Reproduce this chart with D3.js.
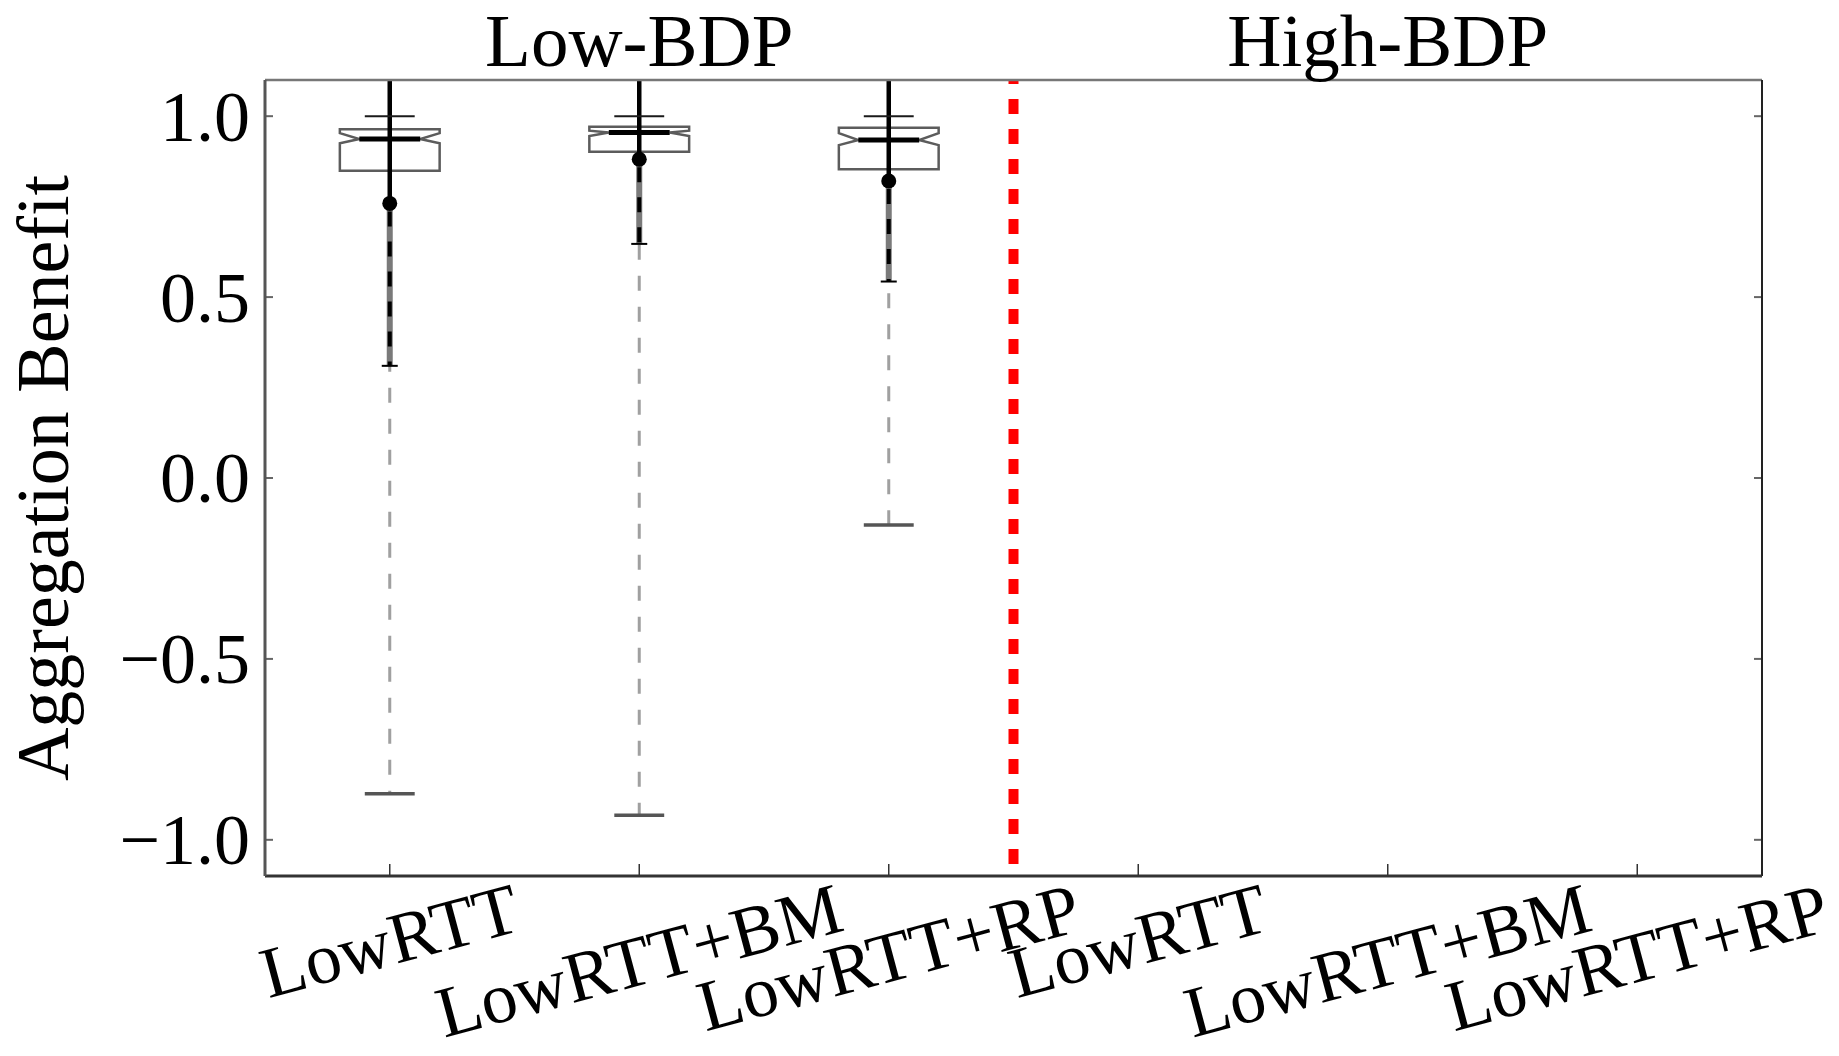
<!DOCTYPE html>
<html>
<head>
<meta charset="utf-8">
<script src="https://cdn.jsdelivr.net/npm/d3@7"></script>
<style>
  body { margin: 0; background: #fff; }
  svg { display: block; font-family: "Liberation Serif", "DejaVu Serif", serif; }
</style>
</head>
<body>
<div id="chart"></div>
<script>
// box plot data (only the Low-BDP group has boxes)
const categories = ["LowRTT", "LowRTT+BM", "LowRTT+RP", "LowRTT", "LowRTT+BM", "LowRTT+RP"];
const groups = ["Low-BDP", "High-BDP"];
const groupCenter = [2, 5];
const boxPos = [1, 2, 3];
const q1 = [0.849, 0.902, 0.853];
const median = [0.937, 0.955, 0.934];
const q3 = [0.964, 0.971, 0.968];
const notchLo = [0.925, 0.945, 0.920];
const notchHi = [0.953, 0.960, 0.953];
const whiskerLo = [-0.873, -0.932, -0.130];
const whiskerHi = [1.0, 1.0, 1.0];
const means = [0.759, 0.881, 0.821];
const errLo = [0.31, 0.647, 0.543];
const errHi = [1.21, 1.12, 1.11];
const yTicks = [-1.0, -0.5, 0.0, 0.5, 1.0];
const divider = 3.5;

const W = 1839, H = 1056;
const margin = { top: 80, right: 77, bottom: 180, left: 265 };

const svg = d3.select("#chart").append("svg")
    .attr("width", W)
    .attr("height", H);

const x = d3.scaleLinear().domain([0.5, 6.5]).range([margin.left, W - margin.right]);
const y = d3.scaleLinear().domain([-1.1, 1.1]).range([H - margin.bottom, margin.top]);

const x0 = x.range()[0], x1 = x.range()[1];
const yb = y.range()[0], yt = y.range()[1];

svg.append("clipPath").attr("id", "plot")
    .append("rect")
    .attr("x", x0).attr("y", yt)
    .attr("width", x1 - x0).attr("height", yb - yt);

const plot = svg.append("g").attr("clip-path", "url(#plot)");

// boxes
const bw = 0.2, nw = 0.122, cw = 0.1;
boxPos.forEach((p, i) => {
    const g = plot.append("g");
    const L = x(p - bw), R = x(p + bw), cl = x(p - nw), cr = x(p + nw);
    const path = d3.path();
    path.moveTo(L, y(q1[i]));
    path.lineTo(R, y(q1[i]));
    path.lineTo(R, y(notchLo[i]));
    path.lineTo(cr, y(median[i]));
    path.lineTo(R, y(notchHi[i]));
    path.lineTo(R, y(q3[i]));
    path.lineTo(L, y(q3[i]));
    path.lineTo(L, y(notchHi[i]));
    path.lineTo(cl, y(median[i]));
    path.lineTo(L, y(notchLo[i]));
    path.closePath();
    g.append("path").attr("d", path.toString())
        .attr("fill", "none").attr("stroke", "#5c5c5c").attr("stroke-width", 2.5);

    // lower whisker (light dashed), below the error bar
    g.append("line")
        .attr("x1", x(p)).attr("x2", x(p))
        .attr("y1", y(q1[i])).attr("y2", y(whiskerLo[i]))
        .attr("stroke", "#a0a0a0").attr("stroke-width", 3)
        .attr("stroke-dasharray", "15,16");

    // lower error bar: gray under, black dashes over
    g.append("line")
        .attr("x1", x(p)).attr("x2", x(p))
        .attr("y1", y(means[i])).attr("y2", y(errLo[i]))
        .attr("stroke", "#7a7a7a").attr("stroke-width", 6);
    g.append("line")
        .attr("x1", x(p)).attr("x2", x(p))
        .attr("y1", y(means[i])).attr("y2", y(errLo[i]))
        .attr("stroke", "#000").attr("stroke-width", 4)
        .attr("stroke-dasharray", "15,15").attr("stroke-dashoffset", -8);

    // upper error bar, solid black
    g.append("line")
        .attr("x1", x(p)).attr("x2", x(p))
        .attr("y1", y(means[i])).attr("y2", y(errHi[i]))
        .attr("stroke", "#000").attr("stroke-width", 4.5);

    // whisker caps
    g.append("line")
        .attr("x1", x(p - cw)).attr("x2", x(p + cw))
        .attr("y1", y(whiskerHi[i])).attr("y2", y(whiskerHi[i]))
        .attr("stroke", "#1a1a1a").attr("stroke-width", 2);
    g.append("line")
        .attr("x1", x(p - cw)).attr("x2", x(p + cw))
        .attr("y1", y(whiskerLo[i])).attr("y2", y(whiskerLo[i]))
        .attr("stroke", "#555").attr("stroke-width", 3.5);

    // error bar caps
    [errLo[i], errHi[i]].forEach(v => {
        g.append("line")
            .attr("x1", x(p) - 8).attr("x2", x(p) + 8)
            .attr("y1", y(v)).attr("y2", y(v))
            .attr("stroke", "#000").attr("stroke-width", 2);
    });

    // median
    g.append("line")
        .attr("x1", cl).attr("x2", cr)
        .attr("y1", y(median[i])).attr("y2", y(median[i]))
        .attr("stroke", "#000").attr("stroke-width", 5);

    // mean
    g.append("circle")
        .attr("cx", x(p)).attr("cy", y(means[i])).attr("r", 7.5)
        .attr("fill", "#000");
});

// red divider between the two groups
plot.append("line")
    .attr("x1", x(divider)).attr("x2", x(divider))
    .attr("y1", yt).attr("y2", yb)
    .attr("stroke", "#ff0000").attr("stroke-width", 10)
    .attr("stroke-dasharray", "15,15").attr("stroke-dashoffset", 11);

// ticks (inward)
const xTickPos = d3.range(1, categories.length + 1);
svg.append("g").selectAll("line").data(xTickPos).join("line")
    .attr("x1", d => x(d)).attr("x2", d => x(d))
    .attr("y1", yb).attr("y2", yb - 12)
    .attr("stroke", "#333").attr("stroke-width", 1.5);

svg.append("g").selectAll("line").data(yTicks).join("line")
    .attr("x1", x0).attr("x2", x0 + 8)
    .attr("y1", d => y(d)).attr("y2", d => y(d))
    .attr("stroke", "#666").attr("stroke-width", 2);
svg.append("g").selectAll("line").data(yTicks).join("line")
    .attr("x1", x1).attr("x2", x1 - 8)
    .attr("y1", d => y(d)).attr("y2", d => y(d))
    .attr("stroke", "#666").attr("stroke-width", 2);

// frame
svg.append("line").attr("x1", x0).attr("x2", x1).attr("y1", yt).attr("y2", yt)
    .attr("stroke", "#777").attr("stroke-width", 2.5);
svg.append("line").attr("x1", x1).attr("x2", x1).attr("y1", yt).attr("y2", yb)
    .attr("stroke", "#222").attr("stroke-width", 2);
svg.append("line").attr("x1", x0).attr("x2", x1).attr("y1", yb).attr("y2", yb)
    .attr("stroke", "#333").attr("stroke-width", 3);
svg.append("line").attr("x1", x0).attr("x2", x0).attr("y1", yt).attr("y2", yb)
    .attr("stroke", "#555").attr("stroke-width", 3);

// y tick labels
const fmt = d3.format(".1f");
svg.append("g").selectAll("text").data(yTicks).join("text")
    .attr("x", x0 - 15).attr("y", d => y(d))
    .attr("dy", "0.34em")
    .attr("text-anchor", "end")
    .attr("font-size", 72)
    .text(d => fmt(d));

// x tick labels, rotated 15 degrees, tops aligned under the axis
const fs = 72, ang = 15 * Math.PI / 180;
const xl = svg.append("g").selectAll("text").data(categories).join("text")
    .attr("text-anchor", "middle")
    .attr("dy", fs * 0.33)
    .attr("font-size", fs)
    .text(d => d);
xl.attr("transform", function(d, i) {
    const w = this.getComputedTextLength();
    const cy = yb + 8 + (w * Math.sin(ang) + 0.66 * fs * Math.cos(ang)) / 2;
    return `translate(${x(i + 1)},${cy}) rotate(-15)`;
});

// group titles
svg.append("g").selectAll("text").data(groups).join("text")
    .attr("x", (d, i) => x(groupCenter[i]))
    .attr("y", 66)
    .attr("text-anchor", "middle")
    .attr("font-size", 75)
    .text(d => d);

// y axis label
svg.append("text")
    .attr("transform", `translate(68,${(yt + yb) / 2}) rotate(-90)`)
    .attr("text-anchor", "middle")
    .attr("font-size", 74)
    .text("Aggregation Benefit");
</script>
</body>
</html>
